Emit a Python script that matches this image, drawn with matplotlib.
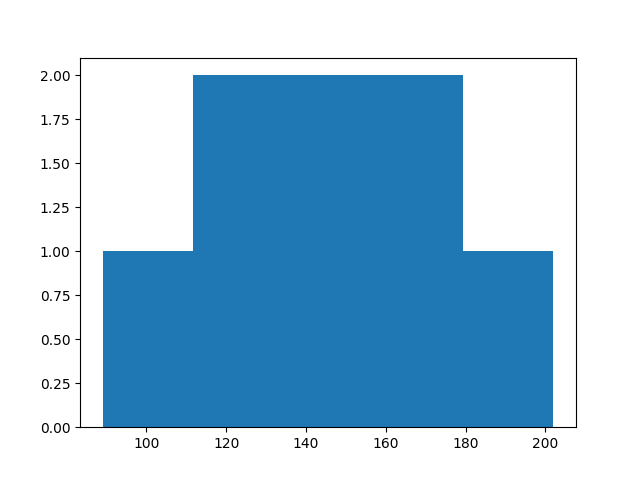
import matplotlib
matplotlib.use("Agg")
import matplotlib.pyplot as plt

# sample values (5 equal bins between 89 and 202)
values = [89, 125, 130, 145, 150, 170, 175, 202]
n_bins = 5

fig = plt.figure(figsize=(6.4, 4.8), dpi=100)
plt.hist(values, bins=n_bins)
plt.savefig("out.png")
